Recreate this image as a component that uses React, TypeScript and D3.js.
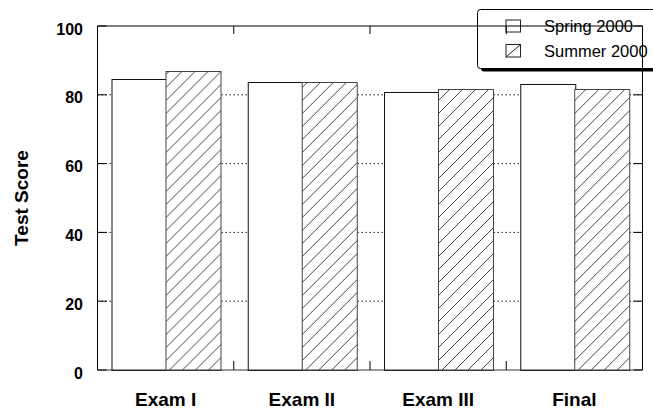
import React from 'react';
import * as d3 from 'd3';

const categories = ['Exam I', 'Exam II', 'Exam III', 'Final'];
const seriesNames = ['Spring 2000', 'Summer 2000'];
const spring = [84.6, 83.8, 80.9, 83.1];
const summer = [87.0, 83.7, 81.6, 81.6];
const yTicks = [0, 20, 40, 60, 80, 100];

const W = 653;
const H = 411;
const font = '"Liberation Sans", Arial, sans-serif';

export default function App() {
  const left = 97.5, right = 642.5, top = 26, bottom = 370;

  const x0 = d3.scaleBand<string>().domain(categories).range([left, right]).paddingInner(0).paddingOuter(0);
  const bw = x0.bandwidth();
  const x1 = d3.scaleBand<string>().domain(seriesNames).range([bw * 0.1, bw * 0.9]).paddingInner(0).paddingOuter(0);
  const y = d3.scaleLinear().domain([0, 100]).range([bottom, top]);

  const values = [spring, summer];

  return (
    <div style={{ position: 'absolute', left: 0, top: 0 }}>
      <svg width={W} height={H} style={{ display: 'block', background: '#fff' }}>
        <defs>
          <pattern id="hatch" patternUnits="userSpaceOnUse" width={13} height={13}>
            <rect width={13} height={13} fill="#fff" />
            <path d="M0,13 L13,0 M-3,3 L3,-3 M10,16 L16,10" stroke="#333" strokeWidth={0.9} />
          </pattern>
        </defs>

        {/* dotted gridlines */}
        {yTicks.filter(t => t > 0 && t < 100).map(t => (
          <line key={'g' + t} x1={left} x2={right} y1={y(t)} y2={y(t)} stroke="#222" strokeDasharray="1.5,2.5" />
        ))}

        {/* bars */}
        {categories.map((c, i) => (
          <g key={c} transform={`translate(${x0(c)},0)`}>
            {seriesNames.map((s, j) => (
              <rect key={s}
                x={Math.round(x1(s)!) + 0.5}
                y={Math.round(y(values[j][i])) + 0.5}
                width={Math.round(x1.bandwidth())}
                height={bottom - Math.round(y(values[j][i]))}
                fill={j === 0 ? '#fff' : 'url(#hatch)'}
                stroke={j === 0 ? '#111' : '#444'}
                strokeWidth={1} />
            ))}
          </g>
        ))}

        {/* legend */}
        <g fontFamily={font} fontSize={16.5}>
          <rect x={481} y={12.5} width={240} height={59} rx={3} fill="#000" />
          <rect x={477.5} y={9.5} width={240} height={59} rx={3} fill="#fff" stroke="#000" />
          <rect x={506} y={20} width={14.5} height={12} fill="#fff" stroke="#222" />
          <text x={544} y={32}>{seriesNames[0]}</text>
          <rect x={506} y={44.5} width={14.5} height={12.5} fill="#fff" stroke="#222" />
          <line x1={506} y1={57} x2={520.5} y2={44.5} stroke="#222" />
          <text x={544} y={57}>{seriesNames[1]}</text>
        </g>

        {/* frame */}
        <line x1={left} x2={right} y1={top} y2={top} stroke="#000" />
        <line x1={left} x2={left} y1={top} y2={bottom} stroke="#000" />
        <line x1={right} x2={right} y1={top} y2={bottom} stroke="#000" />
        <line x1={left} x2={right} y1={bottom} y2={bottom} stroke="#333" />

        {/* y ticks */}
        {yTicks.map(t => (
          <g key={'t' + t}>
            <line x1={left} x2={left + 9} y1={y(t)} y2={y(t)} stroke="#000" />
            <line x1={right - 9} x2={right} y1={y(t)} y2={y(t)} stroke="#000" />
            <text x={83} y={y(t) + 8.5} textAnchor="end" fontFamily={font} fontWeight="bold" fontSize={16}>{t}</text>
          </g>
        ))}

        {/* x ticks at group boundaries */}
        {categories.slice(1).map(c => (
          <g key={'x' + c}>
            <line x1={x0(c)!} x2={x0(c)!} y1={bottom} y2={bottom - 9} stroke="#000" />
            <line x1={x0(c)!} x2={x0(c)!} y1={top} y2={top + 8} stroke="#000" />
          </g>
        ))}
        {categories.map(c => (
          <text key={'l' + c} x={x0(c)! + bw / 2} y={406} textAnchor="middle"
            fontFamily={font} fontWeight="bold" fontSize={19}>{c}</text>
        ))}

        <text transform="translate(28,198) rotate(-90)" textAnchor="middle" fontFamily={font}
          fontWeight="bold" fontSize={19}>Test Score</text>
      </svg>
    </div>
  );
}
